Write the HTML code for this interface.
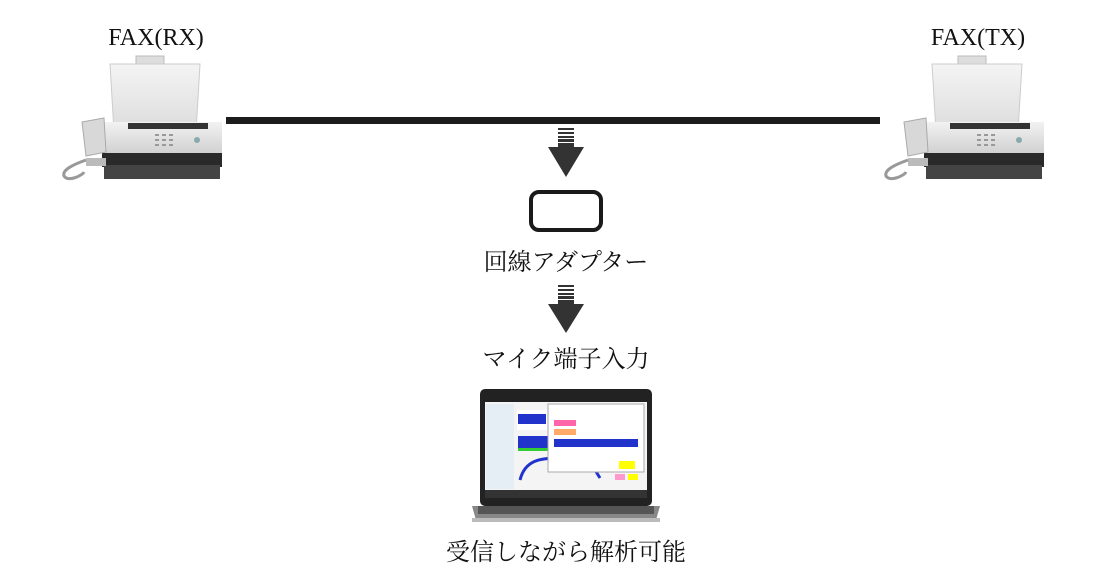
<!DOCTYPE html>
<html><head><meta charset="utf-8"><style>
html,body{margin:0;padding:0;background:#fff;}
svg{display:block}
text{font-family:"Liberation Serif","Noto Serif CJK SC",serif;fill:#111}
</style></head><body>
<svg width="1116" height="582" viewBox="0 0 1116 582" xmlns="http://www.w3.org/2000/svg">
<defs>
<linearGradient id="pap" x1="0" y1="0" x2="0" y2="1"><stop offset="0" stop-color="#f4f4f4"/><stop offset="1" stop-color="#dcdcdc"/></linearGradient>
<linearGradient id="bod" x1="0" y1="0" x2="0" y2="1"><stop offset="0" stop-color="#f2f2f2"/><stop offset="1" stop-color="#cfcfcf"/></linearGradient>
<g id="fax">
  <rect x="74" y="16" width="28" height="10" fill="#ddd" stroke="#bbb"/>
  <path d="M48 24 L138 24 L134 92 L52 92 Z" fill="url(#pap)" stroke="#ccc"/>
  <path d="M40 82 L160 82 L160 115 L40 115 Z" fill="url(#bod)"/>
  <rect x="66" y="83" width="80" height="6" fill="#333"/>
  <g fill="#999"><rect x="93" y="94" width="4" height="2"/><rect x="100" y="94" width="4" height="2"/><rect x="107" y="94" width="4" height="2"/><rect x="93" y="99" width="4" height="2"/><rect x="100" y="99" width="4" height="2"/><rect x="107" y="99" width="4" height="2"/><rect x="93" y="104" width="4" height="2"/><rect x="100" y="104" width="4" height="2"/><rect x="107" y="104" width="4" height="2"/></g>
  <circle cx="135" cy="100" r="3" fill="#8aa"/>
  <rect x="40" y="113" width="120" height="14" fill="#2a2a2a"/>
  <rect x="42" y="125" width="116" height="14" fill="#444"/>
  <path d="M20 82 L42 78 L44 112 L24 116 Z" fill="#d8d8d8" stroke="#aaa"/>
  <rect x="24" y="118" width="20" height="8" fill="#bbb"/>
  <path d="M24 120 C10 125 0 130 2 136 C6 142 20 136 22 132" fill="none" stroke="#999" stroke-width="3"/>
</g>
</defs>
<text x="156" y="45" font-size="24" text-anchor="middle">FAX(RX)</text>
<text x="978" y="45" font-size="24" text-anchor="middle">FAX(TX)</text>
<use href="#fax" x="62" y="40"/>
<use href="#fax" x="884" y="40"/>
<rect x="226" y="117" width="654" height="7" fill="#1c1c1c"/>
<g fill="#333">
  <rect x="558" y="128" width="16" height="2"/><rect x="558" y="132" width="16" height="2"/><rect x="558" y="136" width="16" height="2"/><rect x="558" y="139" width="16" height="3"/><rect x="558" y="143" width="16" height="5"/>
  <path d="M548 147 L584 147 L566 177 Z"/>
  <rect x="558" y="285" width="16" height="2"/><rect x="558" y="289" width="16" height="2"/><rect x="558" y="293" width="16" height="2"/><rect x="558" y="296" width="16" height="3"/><rect x="558" y="300" width="16" height="5"/>
  <path d="M548 304 L584 304 L566 333 Z"/>
</g>
<rect x="531" y="192" width="70" height="38" rx="8" fill="none" stroke="#1a1a1a" stroke-width="4"/>
<text x="566" y="270" font-size="24" text-anchor="middle">回線アダプター</text>
<text x="566" y="367" font-size="24" text-anchor="middle">マイク端子入力</text>
<!-- laptop -->
<rect x="480" y="389" width="172" height="117" rx="5" fill="#222"/>
<rect x="485" y="402" width="162" height="96" fill="#f4f4f4"/>
<rect x="486" y="404" width="28" height="85" fill="#e6eef5"/>
<rect x="517" y="410" width="30" height="20" fill="#fff"/>
<rect x="518" y="414" width="28" height="10" fill="#2233cc"/>
<rect x="518" y="436" width="30" height="12" fill="#2233cc"/>
<rect x="518" y="448" width="30" height="3" fill="#3c3"/>
<path d="M520 480 C525 460 540 458 560 458 L590 462 L600 478" fill="none" stroke="#2233cc" stroke-width="3"/>
<rect x="548" y="404" width="96" height="68" fill="#fff" stroke="#aaa"/>
<rect x="554" y="420" width="22" height="6" fill="#f6a"/>
<rect x="554" y="429" width="22" height="6" fill="#fa6"/>
<rect x="554" y="439" width="84" height="8" fill="#2233cc"/>
<rect x="619" y="461" width="16" height="8" fill="#ff0"/>
<rect x="615" y="474" width="10" height="6" fill="#f9c"/>
<rect x="628" y="474" width="10" height="6" fill="#ff0"/>
<rect x="485" y="490" width="162" height="8" fill="#333"/>
<path d="M472 506 L660 506 L656 520 L476 520 Z" fill="#888"/>
<rect x="478" y="506" width="176" height="8" fill="#555"/>
<rect x="472" y="518" width="188" height="4" fill="#bbb"/>
<text x="566" y="560" font-size="24" text-anchor="middle">受信しながら解析可能</text>
</svg>
</body></html>
